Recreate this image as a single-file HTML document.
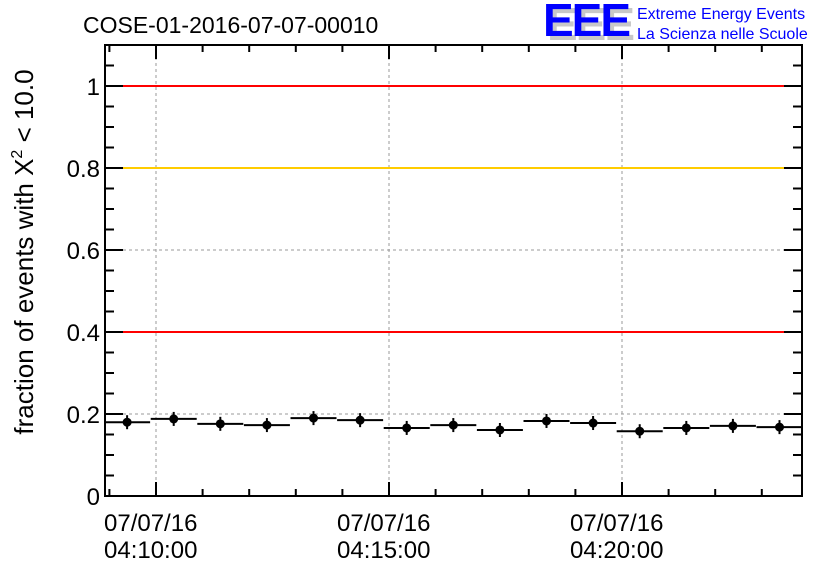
<!DOCTYPE html>
<html><head><meta charset="utf-8">
<style>
html,body{margin:0;padding:0;background:#fff;}
svg{display:block;font-family:"Liberation Sans",sans-serif;}
</style></head>
<body>
<svg id="chart" width="836" height="572" viewBox="0 0 836 572">
<defs><clipPath id="plotclip"><rect x="105" y="45" width="697" height="451"/></clipPath></defs>
<text x="83" y="33" font-size="23" fill="#000">COSE-01-2016-07-07-00010</text>
<g>
<text x="547" y="40" font-size="46" font-weight="bold" fill="#c8c8c8" letter-spacing="-2">EEE</text>
<text x="543" y="36" font-size="46" font-weight="bold" fill="#0000ff" letter-spacing="-2">EEE</text>
<text x="637" y="19" font-size="16" fill="#0000ff">Extreme Energy Events</text>
<text x="637" y="39" font-size="16" fill="#0000ff">La Scienza nelle Scuole</text>
</g>
<text transform="translate(33,252) rotate(-90)" text-anchor="middle" font-size="26" fill="#000">fraction of events with X<tspan dy="-11" font-size="16">2</tspan><tspan dy="11"> &lt; 10.0</tspan></text>
<g id="grid"></g>
<g id="refs"></g>
<g id="marks" clip-path="url(#plotclip)"></g>
<rect x="105" y="45" width="697" height="451" fill="none" stroke="#000" stroke-width="2"/>
<g id="ticks"></g>
</svg>
<script>
const binMinutes = [-0.62,0.38,1.38,2.38,3.38,4.38,5.38,6.38,7.38,8.38,9.38,10.38,11.38,12.38,13.38];
const fractionValues = [0.180,0.188,0.176,0.173,0.190,0.185,0.166,0.173,0.161,0.183,0.178,0.158,0.166,0.171,0.168];
const yTickLabels = ["0","0.2","0.4","0.6","0.8","1"];
const yTickValues = [0,0.2,0.4,0.6,0.8,1];
const xMajorMinutes = [0,5,10];
const xMajorLabels = [["07/07/16","04:10:00"],["07/07/16","04:15:00"],["07/07/16","04:20:00"]];
const refValues = [1.0,0.8,0.4];
const refColors = ["#ff0000","#ffcc00","#ff0000"];

const NS="http://www.w3.org/2000/svg";
const L=105,R=802,T=45,B=496;
const X=m=>156+m*46.6;
const Y=v=>496-v*410;
function mk(tag,attrs,parent){const e=document.createElementNS(NS,tag);for(const k in attrs)e.setAttribute(k,attrs[k]);parent.appendChild(e);return e;}
const grid=document.getElementById('grid'),refs=document.getElementById('refs'),marks=document.getElementById('marks'),ticks=document.getElementById('ticks');

xMajorMinutes.forEach((m,i)=>{
  const g=mk('line',{x1:X(m),x2:X(m),y1:T,y2:B,stroke:'#999','stroke-dasharray':'3,3','stroke-width':1},grid);
  
  
  xMajorLabels[i].forEach((s,j)=>{
    const t=mk('text',{x:X(m)-52,y:531+j*27,'font-size':24,fill:'#000'},ticks);
    t.textContent=s;
    
    
  });
});
yTickValues.forEach((v,i)=>{
  if(v>0){const g=mk('line',{x1:L,x2:R,y1:Y(v),y2:Y(v),stroke:'#999','stroke-dasharray':'3,3','stroke-width':1},grid);
  
  }
  const t=mk('text',{x:100,y:Y(v)+9,'font-size':24,'text-anchor':'end',fill:'#000'},ticks);
  t.textContent=yTickLabels[i];
  
  
});
refValues.forEach((v,i)=>{
  const l=mk('line',{x1:L,x2:R,y1:Y(v),y2:Y(v),stroke:refColors[i],'stroke-width':2},refs);
  
  
});
for(let m=-1;m<=13;m++){
  const x=X(m); if(x<L||x>R)continue;
  const len=(m%5===0)?14:7;
  mk('line',{x1:x,x2:x,y1:B,y2:B-len,stroke:'#000','stroke-width':2},ticks);
  mk('line',{x1:x,x2:x,y1:T,y2:T+len,stroke:'#000','stroke-width':2},ticks);
}
for(let k=0;k<=22;k++){
  const v=k*0.05,y=Y(v); if(y<T)continue;
  const len=(k%4===0)?18:9;
  mk('line',{x1:L,x2:L+len,y1:y,y2:y,stroke:'#000','stroke-width':2},ticks);
  mk('line',{x1:R,x2:R-len,y1:y,y2:y,stroke:'#000','stroke-width':2},ticks);
}
binMinutes.forEach((m,i)=>{
  const g=mk('g',{},marks);
  
  
  const x=X(m),y=Y(fractionValues[i]);
  mk('line',{x1:x-23,x2:x+23,y1:y,y2:y,stroke:'#000','stroke-width':2},g);
  mk('line',{x1:x,x2:x,y1:y-7,y2:y+7,stroke:'#000','stroke-width':2},g);
  mk('circle',{cx:x,cy:y,r:4.5,fill:'#000'},g);
});
</script>
</body></html>
